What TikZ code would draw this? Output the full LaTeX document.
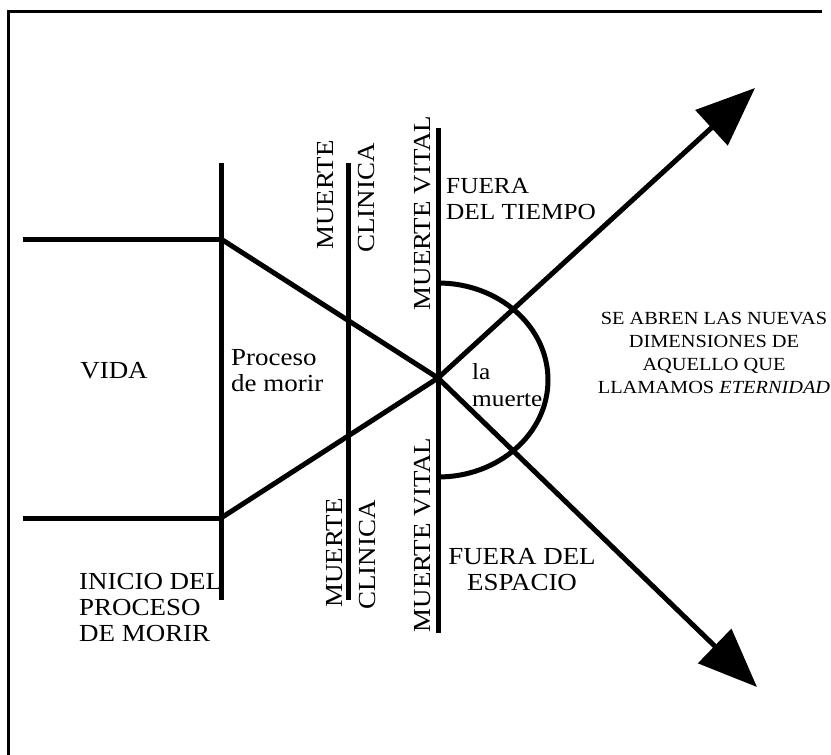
\documentclass[tikz,border=0pt]{standalone}
\usepackage{fontspec}
\setmainfont{Liberation Serif}[FakeStretch=1.1]
\usetikzlibrary{arrows.meta}
\tikzset{
  bar/.style={line width=5pt},
  frameline/.style={line width=3pt},
  bigarrow/.style={line width=5pt,-{Triangle[length=59pt,width=47pt]}},
  lbl/.style={inner sep=0pt,font=\fontsize{24.5}{26}\selectfont},
  lblsm/.style={inner sep=0pt,font=\fontsize{23}{25.5}\selectfont},
  vlbl/.style={lbl,rotate=90},
  small/.style={inner sep=0pt,align=center,font=\fontsize{18.5}{23}\selectfont}
}
\begin{document}
\begin{tikzpicture}[x=1pt,y=-1pt]
\useasboundingbox (0,0) rectangle (831,755);
% frame
\coordinate (fl) at (8,755);
\coordinate (ftl) at (8,11);
\coordinate (ftr) at (822,11);
\draw[frameline] (fl) -- (ftl) -- (ftr);
% key points
\coordinate (h1a) at (23,239);
\coordinate (h1b) at (221,239);
\coordinate (h2a) at (23,518);
\coordinate (h2b) at (221,518);
\coordinate (v1t) at (221,163);
\coordinate (v1b) at (221,600);
\coordinate (v2t) at (348,163);
\coordinate (v2b) at (348,600);
\coordinate (v3t) at (438,128);
\coordinate (v3b) at (438,633);
\coordinate (c) at (438,378);
\coordinate (arcTop) at (438,283);
\coordinate (tipU) at (755,88);
\coordinate (tipD) at (757,687);
% lines
\draw[bar] (h1a) -- (h1b);
\draw[bar] (h2a) -- (h2b);
\draw[bar] (v1t) -- (v1b);
\draw[bar] (v2t) -- (v2b);
\draw[bar] (v3t) -- (v3b);
\draw[bar] (h1b) -- (c);
\draw[bar] (h2b) -- (c);
\draw[bar] (arcTop) arc[start angle=-90,end angle=90,x radius=110,y radius=97];
\draw[bigarrow] (c) -- (tipU);
\draw[bigarrow] (c) -- (tipD);
% labels
\node[lbl] (vida) at (114,371) {VIDA};
\node[lbl,anchor=west,align=left] (proc) at (231,371) {Proceso\\de morir};
\node[lbl,anchor=west,align=left] (inicio) at (79,608) {INICIO DEL\\PROCESO\\DE MORIR};
\node[vlbl] (mc1) at (326,195) {MUERTE};
\node[vlbl] (cl1) at (367,198) {CLINICA};
\node[vlbl] (mv1) at (423,213) {MUERTE VITAL};
\node[vlbl] (mc2) at (335,553) {MUERTE};
\node[vlbl] (cl2) at (368,555) {CLINICA};
\node[vlbl] (mv2) at (423,535) {MUERTE VITAL};
\node[lblsm,anchor=west,align=left] (tiempo) at (446,199) {FUERA\\DEL TIEMPO};
\node[lbl,align=center] (espacio) at (522,570) {FUERA DEL\\ESPACIO};
\node[lblsm,anchor=west,align=left,font=\fontsize{23}{27}\selectfont] (lamuerte) at (472,385) {la\\muerte};
\node[small] (eter) at (714,353) {SE ABREN LAS NUEVAS\\DIMENSIONES DE\\AQUELLO QUE\\LLAMAMOS \textit{ETERNIDAD}};
\end{tikzpicture}
\end{document}
